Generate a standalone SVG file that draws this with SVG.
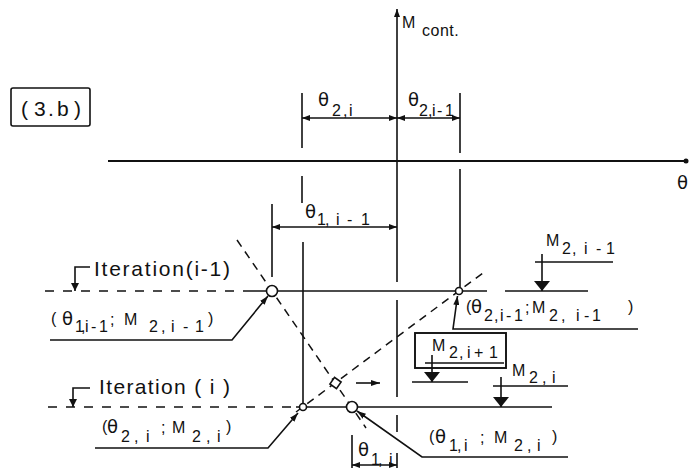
<svg xmlns="http://www.w3.org/2000/svg" width="689" height="468" viewBox="0 0 689 468">
<style>
.ln{stroke:#111;stroke-width:1.6;fill:none}
.ax{stroke:#111;stroke-width:1.9;fill:none}
.dsh{stroke:#111;stroke-width:1.6;fill:none;stroke-dasharray:9 9}
.dg{stroke:#111;stroke-width:1.5;fill:none;stroke-dasharray:8 6}
.pt{stroke:#111;stroke-width:1.6;fill:#fff}
text{font-family:"Liberation Sans","DejaVu Sans",sans-serif;fill:#111;font-size:16px}
.big{font-size:21px}
.th{font-family:"DejaVu Sans",sans-serif;font-size:18px}
</style>
<defs>
<marker id="dim" viewBox="0 0 8 6" refX="8" refY="3" markerWidth="8" markerHeight="6" markerUnits="userSpaceOnUse" orient="auto-start-reverse"><path d="M0,0 L8,3 L0,6 z" fill="#111"/></marker>
<marker id="lead" viewBox="0 0 9 6" refX="9" refY="3" markerWidth="9" markerHeight="6" markerUnits="userSpaceOnUse" orient="auto"><path d="M0,0 L9,3 L0,6 z" fill="#111"/></marker>
<marker id="itr" viewBox="0 0 8 8" refX="8" refY="4" markerWidth="8" markerHeight="8" markerUnits="userSpaceOnUse" orient="auto"><path d="M0,0 L8,4 L0,8 z" fill="#111"/></marker>
<marker id="load" viewBox="0 0 10 16" refX="10" refY="8" markerWidth="10" markerHeight="16" markerUnits="userSpaceOnUse" orient="auto"><path d="M0,0 L10,8 L0,16 z" fill="#111"/></marker>
</defs>

<g id="title">
<rect x="11" y="88" width="79" height="38" rx="2" class="ln"/>
<text class="big" y="116"><tspan x="21">(</tspan><tspan x="34">3</tspan><tspan x="48">.</tspan><tspan x="57">b</tspan><tspan x="74">)</tspan></text>
</g>

<g id="axes">
<line x1="397" y1="282" x2="397" y2="9" class="ln" marker-end="url(#dim)"/>
<line x1="397" y1="300" x2="397" y2="397" class="ln"/>
<line x1="397" y1="415" x2="397" y2="432" class="ln"/>
<line x1="108" y1="161" x2="687" y2="161" class="ax"/>
<circle cx="686" cy="161" r="2.5" fill="#111"/>
<text x="402" y="28">M</text><text x="422" y="36" letter-spacing="0.5">cont.</text>
<text class="th" x="677" y="189">θ</text>
</g>

<g id="dimensions">
<line x1="302" y1="93" x2="302" y2="148" class="ln"/>
<line x1="460" y1="93" x2="460" y2="153" class="ln"/>
<line x1="302" y1="176" x2="302" y2="203" class="ln"/>
<line x1="303" y1="242" x2="303" y2="404" class="ln"/>
<line x1="460" y1="169" x2="460" y2="287" class="ln"/>
<line x1="272" y1="204" x2="272" y2="277" class="ln"/>
<line x1="352" y1="435" x2="352" y2="468" class="ln"/>
<line x1="397" y1="453" x2="397" y2="468" class="ln"/>
<line x1="302" y1="118" x2="397" y2="118" class="ln" marker-start="url(#dim)" marker-end="url(#dim)"/>
<line x1="397" y1="118" x2="460" y2="118" class="ln" marker-start="url(#dim)" marker-end="url(#dim)"/>
<line x1="272" y1="227" x2="397" y2="227" class="ln" marker-start="url(#dim)" marker-end="url(#dim)"/>
<line x1="352" y1="465" x2="397" y2="465" class="ln" marker-start="url(#dim)" marker-end="url(#dim)"/>
<text class="th" x="318" y="106">θ</text><text y="116" x="332 343 349">2,i</text>
<text class="th" x="408" y="106">θ</text><text y="116" x="419 428 432 437 445">2,i-1</text>
<text class="th" x="305" y="218">θ</text><text y="225" x="317 325 336 347 361">1,i-1</text>
<text class="th" x="358" y="456">θ</text><text y="465" x="371 378 389">1,i</text>
</g>

<g id="iteration-i-1">
<line x1="45" y1="291" x2="245" y2="291" class="dsh"/>
<line x1="245" y1="291" x2="487" y2="291" class="ln"/>
<line x1="505" y1="291" x2="588" y2="291" class="ln"/>
<polyline points="90,267 75,267 75,291" class="ln" marker-end="url(#itr)"/>
<text class="big" x="94" y="276" textLength="136" lengthAdjust="spacing">Iteration(i-1)</text>
</g>

<g id="iteration-i">
<line x1="48" y1="407" x2="296" y2="407" class="dsh"/>
<line x1="296" y1="407" x2="552" y2="407" class="ln"/>
<polyline points="90,388 73,388 73,407" class="ln" marker-end="url(#itr)"/>
<text class="big" x="99" y="394" textLength="131" lengthAdjust="spacing">Iteration ( i )</text>
</g>

<g id="diagonals">
<line x1="237" y1="240" x2="366" y2="428" class="dg"/>
<line x1="296" y1="412" x2="487" y2="270" class="dg"/>
</g>

<g id="points">
<circle id="p1" cx="272" cy="291" r="5.5" class="pt"/>
<circle id="p2" cx="459" cy="291" r="3.5" class="pt"/>
<circle id="p3" cx="303" cy="407" r="3.5" class="pt"/>
<circle id="p4" cx="352" cy="407" r="5.5" class="pt"/>
<rect id="p5" x="331.5" y="379" width="8" height="8" class="pt" transform="rotate(35 335.5 383)"/>
</g>

<g id="connectors">
<polyline points="50,340 232,340 268,296" class="ln" marker-end="url(#lead)"/>
<polyline points="95,448 268,448 298,413" class="ln" marker-end="url(#lead)"/>
<polyline points="568,457 422,457 357,411" class="ln" marker-end="url(#lead)"/>
<polyline points="638,329 453,329 457.5,296" class="ln" marker-end="url(#lead)"/>
<line x1="356" y1="383" x2="380" y2="383" class="ln" marker-end="url(#lead)"/>
</g>

<g id="label-p1">
<text y="324" x="51">(</text><text class="th" y="325" x="62">θ</text><text y="332" x="75 81 85 91 99">1,i-1</text>
<text y="325" x="110">;</text><text y="325" x="124">M</text><text y="332" x="149 161 171 183 195">2,i-1</text><text y="324" x="208">)</text>
</g>
<g id="label-p3">
<text y="432" x="102">(</text><text class="th" y="433" x="107">θ</text><text y="442" x="121 134 146">2,i</text>
<text y="433" x="161">;</text><text y="433" x="172">M</text><text y="442" x="192 206 217">2,i</text><text y="432" x="226">)</text>
</g>
<g id="label-p4">
<text y="442" x="429">(</text><text class="th" y="443" x="435">θ</text><text y="451" x="449 457 464">1,i</text>
<text y="443" x="480">;</text><text y="443" x="494">M</text><text y="451" x="514 527 537">2,i</text><text y="442" x="552">)</text>
</g>
<g id="label-p2">
<text y="312" x="466">(</text><text class="th" y="313" x="471">θ</text><text y="321" x="484 494 500 506 514">2,i-1</text>
<text y="313" x="525">;</text><text y="313" x="532">M</text><text y="321" x="549 561 576 584 592">2,i-1</text><text y="312" x="628">)</text>
</g>

<g id="load-i-1">
<line x1="535" y1="262" x2="613" y2="262" class="ln"/>
<line x1="542" y1="254" x2="542" y2="291" class="ln" marker-end="url(#load)"/>
<text y="246" x="546">M</text><text y="254" x="562 572 584 596 606">2,i-1</text>
</g>
<g id="load-i-plus-1">
<rect x="415" y="333" width="91" height="35" class="ax"/>
<line x1="425" y1="363" x2="504" y2="363" class="ln"/>
<line x1="432" y1="355" x2="432" y2="382" class="ln" marker-end="url(#load)"/>
<line x1="412" y1="382" x2="468" y2="382" class="ln"/>
<text y="351" x="432">M</text><text y="358" x="449 459 467 474 489">2,i+1</text>
</g>
<g id="load-i">
<line x1="493" y1="386" x2="568" y2="386" class="ln"/>
<line x1="501" y1="377" x2="501" y2="407" class="ln" marker-end="url(#load)"/>
<text y="376" x="512">M</text><text y="383" x="529 542 552">2,i</text>
</g>
</svg>
